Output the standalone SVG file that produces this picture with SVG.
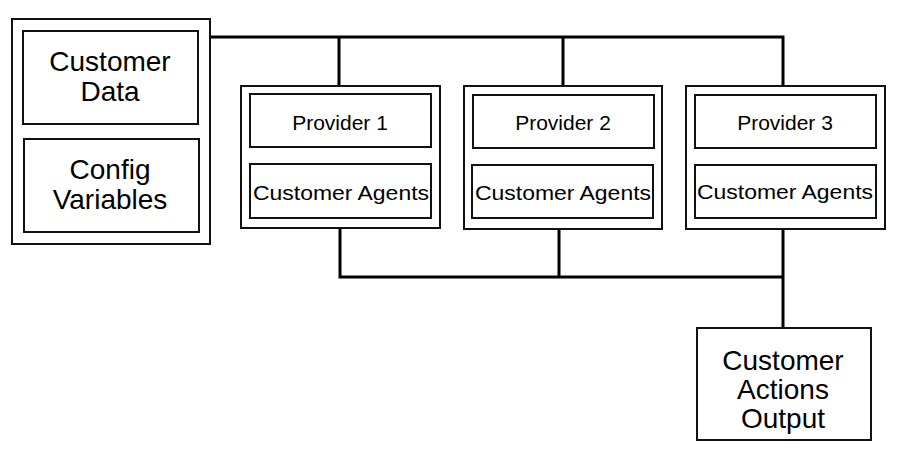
<svg xmlns="http://www.w3.org/2000/svg" width="900" height="471" viewBox="0 0 900 471">
<style>
rect{fill:#fff;stroke:#111;stroke-width:2}
.c{fill:none;stroke:#000;stroke-width:3}
text{font-family:"Liberation Sans",Arial,sans-serif;text-anchor:middle;fill:#000}
.b{font-size:28px}
.s{font-size:21px}
.a{font-size:21px}
</style>
<rect width="900" height="471" style="fill:#fff;stroke:none"/>
<g id="connectors">
<path class="c" d="M210 37H783V86M339 37V86M563 37V86"/>
<path class="c" d="M340 228V277H783M559 229V277M783 229V328"/>
</g>
<g id="left">
<rect x="12" y="19" width="198" height="225"/>
<rect x="23" y="31" width="175" height="93"/>
<text class="b" x="110" y="71">Customer</text><text class="b" x="110" y="101">Data</text>
<rect x="24" y="139" width="175" height="93"/>
<text class="b" x="110" y="179">Config</text><text class="b" x="110" y="209">Variables</text>
</g>
<g id="p1">
<rect x="241" y="86" width="199" height="142"/>
<rect x="250" y="94" width="181" height="53"/><text class="s" x="340" y="130">Provider 1</text>
<rect x="250" y="164" width="181" height="54"/><text class="a" x="341" y="200" textLength="176" lengthAdjust="spacingAndGlyphs">Customer Agents</text>
</g>
<g id="p2">
<rect x="464" y="86" width="198" height="143"/>
<rect x="473" y="95" width="181" height="53"/><text class="s" x="563" y="130">Provider 2</text>
<rect x="472" y="165" width="181" height="53"/><text class="a" x="563" y="200" textLength="176" lengthAdjust="spacingAndGlyphs">Customer Agents</text>
</g>
<g id="p3">
<rect x="686" y="86" width="199" height="143"/>
<rect x="695" y="95" width="181" height="53"/><text class="s" x="785" y="130">Provider 3</text>
<rect x="695" y="165" width="181" height="53"/><text class="a" x="785" y="199" textLength="176" lengthAdjust="spacingAndGlyphs">Customer Agents</text>
</g>
<g id="out">
<rect x="697" y="328" width="174" height="112"/>
<text class="b" x="783" y="370">Customer</text><text class="b" x="783" y="399">Actions</text><text class="b" x="783" y="428">Output</text>
</g>
</svg>
